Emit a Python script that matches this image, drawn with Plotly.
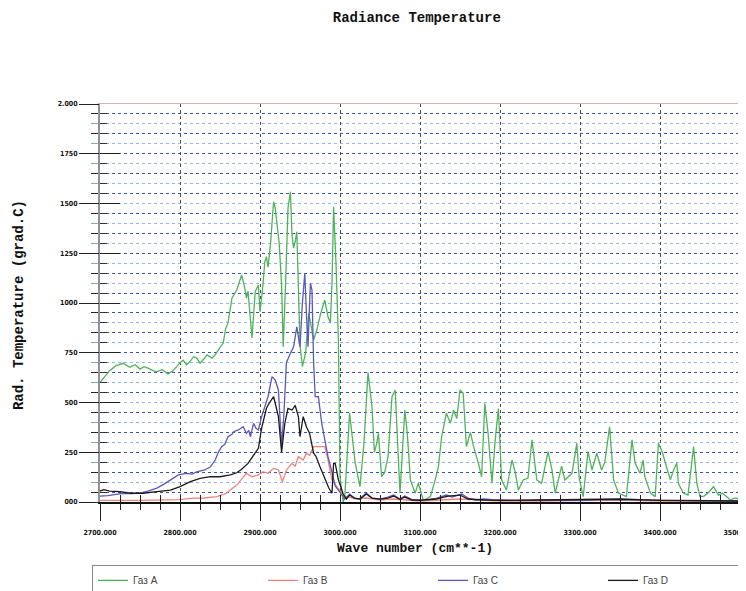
import plotly.graph_objects as go

# ---- data ----
wn_a = [2700, 2706, 2712, 2720, 2729, 2737, 2744, 2750, 2755, 2760, 2766, 2771, 2778, 2785, 2791,
        2796, 2800, 2804, 2808, 2812, 2817, 2821, 2825, 2830, 2834, 2840, 2844, 2848, 2854, 2857,
        2860, 2865, 2871, 2877, 2881, 2883, 2885, 2890, 2894, 2898, 2900, 2903, 2906, 2908, 2910,
        2913, 2917, 2919, 2921, 2924, 2927, 2929, 2932, 2935, 2938, 2940, 2942, 2944, 2946, 2948,
        2950, 2953, 2957, 2961, 2964, 2967, 2971, 2976, 2981, 2985, 2988, 2990, 2992, 2995, 2998,
        3000, 3004, 3006, 3012, 3016, 3019, 3025, 3030, 3035, 3040, 3043, 3046, 3048, 3052, 3056,
        3060, 3065, 3069, 3072, 3075, 3081, 3084, 3088, 3094, 3098, 3104, 3110, 3113, 3119, 3123,
        3127, 3131, 3133, 3138, 3142, 3146, 3150, 3154, 3158, 3163, 3167, 3173, 3177, 3181, 3185,
        3190, 3194, 3198, 3202, 3208, 3215, 3219, 3223, 3229, 3235, 3240, 3246, 3252, 3260, 3265,
        3269, 3277, 3281, 3290, 3296, 3299, 3304, 3310, 3315, 3321, 3327, 3331, 3337, 3342, 3348,
        3358, 3365, 3369, 3375, 3379, 3381, 3388, 3394, 3398, 3403, 3408, 3413, 3417, 3421, 3423,
        3429, 3435, 3442, 3446, 3450, 3455, 3460, 3467, 3473, 3478, 3483, 3488, 3494, 3500]
temp_a = [600, 630, 660, 685, 697, 677, 690, 668, 680, 673, 660, 655, 665, 643, 660,
          680, 700, 713, 690, 703, 730, 723, 698, 720, 739, 723, 740, 764, 799, 870,
          900, 1025, 1065, 1141, 1075, 1025, 1060, 824, 1057, 1090, 956, 1060, 1207, 1233, 1180,
          1291, 1509, 1477, 1392, 1300, 1090, 780, 1100, 1477, 1559, 1342, 1276, 1308, 1358, 1090,
          789, 680, 750, 950, 880, 814, 864, 950, 1015, 931, 900, 1100, 1484, 1200, 814,
          127, 0, 27, 447, 300, 196, 77, 300, 650, 479, 250, 296, 345, 127, 150,
          228, 529, 563, 300, 45, 462, 350, 111, 45, 95, 10, 20, 27, 111, 177,
          328, 396, 446, 396, 462, 420, 563, 546, 278, 350, 278, 194, 127, 496, 350,
          94, 312, 470, 111, 60, 211, 150, 60, 111, 120, 312, 111, 94, 253, 160,
          45, 180, 111, 144, 295, 120, 27, 253, 161, 245, 161, 200, 378, 111, 45,
          27, 312, 194, 144, 211, 127, 45, 27, 295, 250, 177, 111, 161, 196, 94,
          45, 35, 278, 95, 27, 30, 45, 77, 35, 45, 27, 10, 20, 15]

wn_b = [2700, 2750, 2800, 2813, 2830, 2846, 2858, 2865, 2871, 2877, 2883, 2890, 2898, 2904, 2910,
        2917, 2923, 2928, 2933, 2940, 2944, 2948, 2954, 2958, 2962, 2967, 2973, 2981, 2985, 2990,
        2996, 3002, 3006, 3012, 3020, 3033, 3050, 3067, 3080, 3100, 3150, 3200, 3250, 3300, 3350,
        3400, 3450, 3500]
temp_b = [8, 8, 12, 18, 20, 27, 44, 65, 85, 115, 144, 127, 136, 152, 144,
          169, 161, 102, 161, 194, 180, 228, 211, 245, 235, 278, 278, 278, 211, 111,
          77, 44, 27, 25, 15, 20, 10, 15, 10, 5, 15, 5, 5, 8, 10,
          5, 5, 5]

wn_c = [2700, 2710, 2720, 2729, 2740, 2750, 2760, 2771, 2780, 2788, 2798, 2808, 2815, 2821, 2831,
        2838, 2844, 2848, 2852, 2856, 2860, 2865, 2867, 2873, 2879, 2883, 2886, 2888, 2892, 2895,
        2898, 2902, 2906, 2910, 2915, 2919, 2923, 2927, 2930, 2933, 2938, 2942, 2946, 2950, 2953,
        2956, 2958, 2960, 2963, 2965, 2967, 2969, 2973, 2977, 2981, 2985, 2990, 2994, 2998, 3002,
        3006, 3012, 3018, 3024, 3033, 3040, 3050, 3060, 3067, 3075, 3081, 3090, 3100, 3110, 3120,
        3133, 3140, 3152, 3160, 3170, 3180, 3190, 3200, 3220, 3250, 3300, 3340, 3400, 3450, 3500]
temp_c = [30, 32, 38, 44, 42, 45, 55, 70, 90, 111, 136, 144, 140, 152, 161,
          177, 211, 250, 278, 290, 328, 340, 353, 362, 378, 345, 360, 328, 395, 370,
          362, 429, 479, 529, 630, 613, 563, 280, 450, 700, 747, 780, 880, 780, 1000,
          1150, 950, 780, 1100, 1065, 700, 530, 529, 400, 312, 228, 150, 80, 60, 35,
          15, 40, 20, 15, 45, 20, 15, 25, 35, 15, 30, 12, 10, 12, 18,
          35, 25, 40, 20, 10, 15, 12, 10, 8, 10, 8, 12, 8, 6, 5]

wn_d = [2700, 2705, 2712, 2725, 2738, 2754, 2771, 2788, 2800, 2813, 2825, 2838, 2850, 2863, 2871,
        2877, 2885, 2892, 2898, 2902, 2908, 2912, 2917, 2920, 2923, 2927, 2931, 2935, 2940, 2944,
        2948, 2950, 2954, 2958, 2962, 2967, 2970, 2975, 2981, 2986, 2990, 2992, 2994, 2998, 3004,
        3008, 3012, 3018, 3025, 3033, 3040, 3050, 3060, 3067, 3075, 3081, 3090, 3100, 3120, 3135,
        3150, 3160, 3180, 3200, 3250, 3300, 3350, 3400, 3450, 3500]
temp_d = [55, 62, 55, 52, 44, 44, 52, 60, 77, 102, 119, 127, 127, 136, 147,
          165, 194, 236, 270, 370, 471, 500, 529, 480, 429, 250, 395, 470, 462, 485,
          429, 328, 429, 378, 345, 245, 230, 177, 120, 70, 44, 194, 194, 111, 40,
          15, 35, 20, 15, 40, 20, 15, 20, 30, 12, 25, 10, 8, 15, 30,
          35, 15, 10, 8, 10, 12, 15, 8, 5, 5]

series_names = ["Газ A", "Газ B", "Газ C", "Газ D"]
series_colors = ["#4fb359", "#f2837a", "#5a58b8", "#1e1a1c"]

x_tickvals = [2700, 2800, 2900, 3000, 3100, 3200, 3300, 3400, 3500]
x_ticktext = ["2700.000", "2800.000", "2900.000", "3000.000", "3100.000",
              "3200.000", "3300.000", "3400.000", "3500.000"]
y_tickvals = [0, 250, 500, 750, 1000, 1250, 1500, 1750, 2000]
y_ticktext = ["000", "250", "500", "750", "1000", "1250", "1500", "1750", "2.000"]

# each series sits on its own (identically scaled, overlaid) axis pair so that
# every overlay axis (labels, crossing ticks, frame) is actually drawn
axes_pairs = [("x", "y"), ("x", "y2"), ("x", "y3"), ("x2", "y")]

# ---- figure ----
fig = go.Figure()
for name, xs, ys, col, (xa, ya) in zip(series_names, [wn_a, wn_b, wn_c, wn_d],
                                       [temp_a, temp_b, temp_c, temp_d], series_colors, axes_pairs):
    fig.add_trace(go.Scatter(x=xs, y=ys, mode="lines", name=name, xaxis=xa, yaxis=ya,
                             line=dict(color=col, width=1.3)))

tick_font = dict(family="Liberation Sans Narrow, DejaVu Sans Condensed, Liberation Sans, sans-serif",
                 size=7, color="#111", weight="bold")
mono_bold = dict(family="Liberation Mono, Courier New, monospace", size=14, color="#111", weight="bold")

fig.update_layout(
    width=746, height=591,
    # the page adds an 8px body margin, so the plot box is placed 8px up/left
    margin=dict(l=92, r=14, t=96, b=97, autoexpand=False),
    paper_bgcolor="white", plot_bgcolor="white",
    title=dict(text="Radiance Temperature", x=0.548, xanchor="center", y=0.985, yanchor="middle",
               font=mono_bold),
    # main x: labels, outer ticks, vertical dotted grid, pink frame line mirrored on top
    xaxis=dict(range=[2700, 3500], tickmode="array", tickvals=x_tickvals, ticktext=x_ticktext,
               ticks="outside", ticklen=18, tickwidth=1.3, tickcolor="#222", automargin=False,
               showgrid=True, gridcolor="#4a4a4a", griddash="dot", gridwidth=1,
               showline=True, linecolor="#dcaeb0", linewidth=1.2, mirror=True, zeroline=False,
               tickfont=tick_font, ticklabelstandoff=5, ticklabeloverflow="allow",
               minor=dict(tickmode="linear", tick0=2700, dtick=25, ticks="outside",
                          ticklen=7, tickcolor="#222", showgrid=False)),
    # overlay x: black base line and the upward half of the crossing ticks
    xaxis2=dict(overlaying="x", anchor="y", side="bottom", range=[2700, 3500], automargin=False,
                tickmode="linear", tick0=2700, dtick=25, ticks="inside", ticklen=7,
                tickcolor="#222", tickwidth=1.2, showticklabels=False, showgrid=False,
                zeroline=False, showline=True, linecolor="#111", linewidth=1.5),
    # main y: dotted horizontal grid (alternating blues), short outer ticks
    yaxis=dict(range=[0, 2000], tick0=50, dtick=100, showticklabels=False, automargin=False,
               ticks="outside", ticklen=7, tickcolor="#222", tickwidth=1.3,
               showgrid=True, gridcolor="#3552b5", griddash="dot", gridwidth=1,
               showline=True, linecolor="#8d8f9c", linewidth=1.5, mirror=True,
               zeroline=False,
               minor=dict(tickmode="linear", tick0=0, dtick=50, ticks="outside", ticklen=7,
                          tickcolor="#7ea7cf", showgrid=True, gridcolor="#92b6e4",
                          griddash="dot", gridwidth=1)),
    # overlay y: tick labels and long outer ticks
    yaxis2=dict(overlaying="y", anchor="x", side="left", range=[0, 2000], automargin=False,
                tickmode="array", tickvals=y_tickvals, ticktext=y_ticktext,
                ticks="outside", ticklen=20, tickcolor="#222", tickwidth=1.3,
                showgrid=False, zeroline=False, showline=False, tickfont=tick_font),
    # overlay y: inner halves of the crossing ticks
    yaxis3=dict(overlaying="y", anchor="x", side="left", range=[0, 2000], automargin=False,
                tickmode="array", tickvals=y_tickvals, ticks="inside", ticklen=20,
                tickcolor="#222", tickwidth=1.3, showticklabels=False,
                showgrid=False, zeroline=False, showline=False,
                minor=dict(tickmode="linear", tick0=0, dtick=50, ticks="inside",
                           ticklen=7, tickcolor="#333")),
    legend=dict(orientation="h", x=-0.0125, xanchor="left", y=-0.158, yanchor="top",
                entrywidth=125, entrywidthmode="pixels",
                bordercolor="#8a8a8a", borderwidth=1, bgcolor="white",
                font=dict(family="Liberation Sans, Arial, sans-serif", size=10, color="#444")),
    annotations=[
        dict(text="Rad. Temperature (grad.C)", xref="paper", yref="paper",
             x=-0.1264, y=0.495, textangle=-90, showarrow=False,
             xanchor="center", yanchor="middle", font=mono_bold),
        dict(text="Wave number (cm**-1)", xref="paper", yref="paper",
             x=0.492, y=-0.118, showarrow=False,
             xanchor="center", yanchor="middle", font=dict(mono_bold, size=13)),
    ],
)

fig.write_html("out.html")
